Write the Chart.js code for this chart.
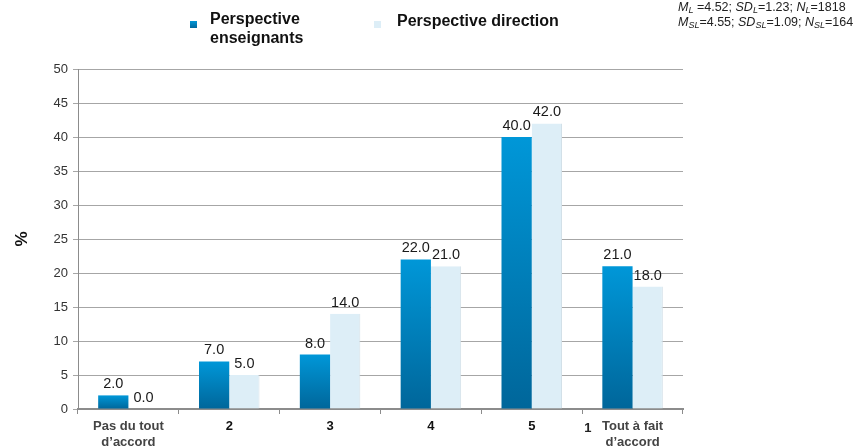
<!DOCTYPE html>
<html>
<head>
<meta charset="utf-8">
<script src="https://cdn.jsdelivr.net/npm/chart.js@4/dist/chart.umd.min.js"></script>
<style>
  html, body { margin: 0; padding: 0; background: #fff; }
  #wrap { position: relative; width: 863px; height: 448px; font-family: "Liberation Sans", Arial, sans-serif; }
  canvas { position: absolute; left: 0; top: 0; }
  .lg { position: absolute; font-weight: bold; font-size: 16px; color: #111; line-height: 19px; }
  .sw { position: absolute; width: 7px; height: 7px; }
  #stats { position: absolute; left: 678px; top: 0px; font-size: 12.5px; line-height: 15px; color: #222; white-space: nowrap; }
  #stats sub { font-size: 9px; vertical-align: -2px; line-height: 0; }
</style>
</head>
<body>
<div id="wrap">
  <canvas id="c" width="863" height="448"></canvas>
  <div class="sw" style="left:190px;top:21px;background:linear-gradient(#0096d6,#00679b);"></div>
  <div class="lg" style="left:210px;top:9px;">Perspective<br>enseignants</div>
  <div class="sw" style="left:374px;top:21px;background:#ddeef7;"></div>
  <div class="lg" style="left:397px;top:11px;">Perspective direction</div>
  <div id="stats"><i>M<sub>L</sub></i> =4.52; <i>SD<sub>L</sub></i>=1.23; <i>N<sub>L</sub></i>=1818<br><i>M<sub>SL</sub></i>=4.55; <i>SD<sub>SL</sub></i>=1.09; <i>N<sub>SL</sub></i>=164</div>
</div>
<script>
// Answer categories (scale 1..6)
const categories = [
  ["Pas du tout", "d\u2019accord"], "2", "3", "4", "5", ["Tout \u00e0 fait", "d\u2019accord"]
];
// Percentages per perspective
const enseignants = [2.0, 7.0, 8.0, 22.0, 40.0, 21.0];
const direction   = [0.0, 5.0, 14.0, 21.0, 42.0, 18.0];
// Y-axis ticks
const yTicks = [0, 5, 10, 15, 20, 25, 30, 35, 40, 45, 50];
const seriesNames = ["Perspective enseignants", "Perspective direction"];

function blueGradient(ctx) {
  const chart = ctx.chart;
  const y = chart.scales && chart.scales.y;
  if (!y || ctx.raw === undefined) return '#0088c4';
  const top = y.getPixelForValue(ctx.raw);
  const bottom = y.getPixelForValue(0);
  if (!isFinite(top) || !isFinite(bottom) || top === bottom) return '#0096d6';
  const g = chart.ctx.createLinearGradient(0, top, 0, bottom);
  g.addColorStop(0, '#0097d8');
  g.addColorStop(1, '#00669a');
  return g;
}

const valueLabels = {
  id: 'valueLabels',
  afterDatasetsDraw(chart) {
    const ctx = chart.ctx;
    ctx.save();
    ctx.font = '14.5px "Liberation Sans", Arial, sans-serif';
    ctx.fillStyle = '#1a1a1a';
    ctx.textAlign = 'center';
    ctx.textBaseline = 'alphabetic';
    chart.data.datasets.forEach((ds, i) => {
      const meta = chart.getDatasetMeta(i);
      meta.data.forEach((el, j) => {
        ctx.fillText(ds.data[j].toFixed(1), el.x, el.y - 7);
      });
    });
    // stray partial label next to the last category
    ctx.font = 'bold 13px "Liberation Sans", Arial, sans-serif';
    ctx.textAlign = 'left';
    ctx.textBaseline = 'middle';
    ctx.fillStyle = '#222';
    const xs = chart.scales.x;
    const edge = (xs.getPixelForValue(4) + xs.getPixelForValue(5)) / 2;
    ctx.fillText('1', edge + 2, 428);
    ctx.restore();
  }
};

new Chart(document.getElementById('c'), {
  type: 'bar',
  data: {
    labels: categories,
    datasets: [
      { label: seriesNames[0], data: enseignants, backgroundColor: blueGradient,
        categoryPercentage: 0.6, barPercentage: 1.0 },
      { label: seriesNames[1], data: direction, backgroundColor: '#ddeef7',
        borderColor: '#d2e0e8', borderWidth: { right: 1, top: 0, left: 0, bottom: 0 },
        categoryPercentage: 0.6, barPercentage: 1.0 }
    ]
  },
  options: {
    responsive: false,
    animation: false,
    devicePixelRatio: 1,
    layout: { padding: { top: 69, right: 180, bottom: 0, left: 0 } },
    plugins: { legend: { display: false }, tooltip: { enabled: false } },
    scales: {
      x: {
        afterFit(scale) { scale.height = 39; },
        grid: { offset: true, drawOnChartArea: false, drawTicks: true, tickLength: 5, color: '#8c8c8c' },
        border: { display: true, color: '#8c8c8c', width: 2 },
        ticks: {
          padding: 4,
          maxRotation: 0,
          font: { family: '"Liberation Sans", Arial, sans-serif', size: 13, weight: 'bold', lineHeight: 1.25 },
          color: (c) => (c.index === 0 || c.index === 5) ? '#444' : '#111'
        }
      },
      y: {
        min: 0, max: 50,
        afterFit(scale) { scale.width = 78; },
        afterBuildTicks(scale) { scale.ticks = yTicks.map(v => ({ value: v })); },
        grid: { color: '#a6a6a6', tickLength: 5, lineWidth: 1 },
        border: { display: true, color: '#8c8c8c', width: 1 },
        ticks: {
          padding: 5,
          font: { family: '"Liberation Sans", Arial, sans-serif', size: 13 },
          color: '#333'
        },
        title: {
          display: true, text: '%',
          font: { family: '"Liberation Sans", Arial, sans-serif', size: 17, weight: 'bold' },
          color: '#111',
          padding: { top: 12, bottom: 0 }
        }
      }
    }
  },
  plugins: [valueLabels]
});
</script>
</body>
</html>
